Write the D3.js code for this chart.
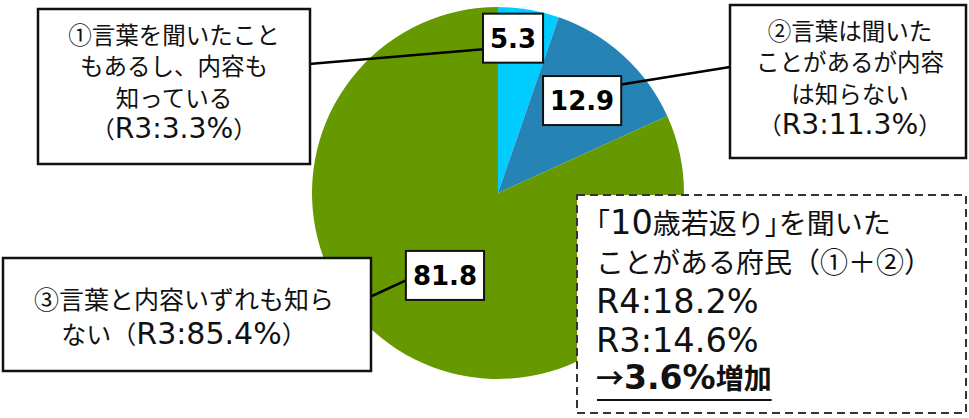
<!DOCTYPE html>
<html>
<head>
<meta charset="utf-8">
<script src="https://cdn.jsdelivr.net/npm/d3@7"></script>
<style>
  body { margin: 0; background: #fff; }
  svg { display: block; font-family: 'DejaVu Sans', 'Noto Sans CJK JP', sans-serif; }
</style>
</head>
<body>
<div id="chart"></div>
<script>
// data
const categories = ['①言葉を聞いたこともあるし、内容も知っている', '②言葉は聞いたことがあるが内容は知らない', '③言葉と内容いずれも知らない']
const values = [5.3, 12.9, 81.8]
const colors = ['#00ccff', '#2683b5', '#669900']
const calloutLines = [
  ['①言葉を聞いたこと', 'もあるし、内容も', '知っている', '（R3:3.3%）'],
  ['②言葉は聞いた', 'ことがあるが内容', 'は知らない', '（R3:11.3%）'],
  ['③言葉と内容いずれも知ら', 'ない（R3:85.4%）']
]
const summaryLines = ['「10歳若返り」を聞いた', 'ことがある府民（①＋②）', 'R4:18.2%', 'R3:14.6%']
const summaryResult = '→3.6%増加'

const width = 969, height = 418
const cx = 498, cy = 193, radius = 186

// latin runs are drawn a bit larger than the kana, like the original font
function runs(sel, str, size, latinScale) {
  str.split(/([\x20-\x7E]+)/).filter(s => s.length).forEach(function(s) {
    const latin = /^[\x20-\x7E]+$/.test(s)
    sel.append('tspan')
      .attr('font-size', latin ? size * (latinScale || 1.2) : size)
      .attr('font-family', latin ? null : "'Noto Sans CJK JP', sans-serif")
      .text(s)
  })
}

const svg = d3.select('#chart')
  .append('svg')
  .attr('width', width)
  .attr('height', height)

const pie = d3.pie().sort(null).value(d => d)
const arcs = pie(values)
const arc = d3.arc().innerRadius(0).outerRadius(radius)

const g = svg.append('g').attr('transform', 'translate(' + cx + ',' + cy + ')')

g.selectAll('path')
  .data(arcs)
  .enter()
  .append('path')
  .attr('d', arc)
  .attr('fill', (d, i) => colors[i])

// value labels, placed along each slice's mid-angle
const labelRadius = [157, 125, 98]
const labelNudge = [-11, 0, 0]
const labelData = arcs.map(function(d, i) {
  const c = d3.arc().innerRadius(labelRadius[i]).outerRadius(labelRadius[i]).centroid(d)
  return { value: d.data, x: cx + c[0] + labelNudge[i], y: cy + c[1] }
})

const leaderG = svg.append('g')

// callout boxes
const boxes = [
  { x: 38, y: 9, w: 272, h: 155, tx: 174, ty: 38, lh: 31.5, size: 23.5 },
  { x: 730, y: 5, w: 236, h: 153, tx: 850, ty: 34, lh: 31.5, size: 23.5 },
  { x: 3, y: 258, w: 368, h: 113, tx: 184, ty: 303, lh: 35, size: 25 }
]

boxes.forEach(function(b, i) {
  svg.append('rect')
    .attr('x', b.x).attr('y', b.y)
    .attr('width', b.w).attr('height', b.h)
    .attr('fill', '#fff')
    .attr('stroke', '#111')
    .attr('stroke-width', 2.5)
  calloutLines[i].forEach(function(line, j) {
    const t = svg.append('text')
      .attr('x', b.tx)
      .attr('y', b.ty + j * b.lh)
      .attr('dy', '0.36em')
      .attr('text-anchor', 'middle')
      .attr('fill', '#111')
    runs(t, line, b.size)
  })
})

const lab = svg.append('g')
  .selectAll('g')
  .data(labelData)
  .enter()
  .append('g')
  .attr('transform', d => 'translate(' + d.x + ',' + d.y + ')')

const labText = lab.append('text')
  .attr('text-anchor', 'middle')
  .attr('dy', '0.36em')
  .attr('font-size', 26)
  .attr('font-weight', 'bold')
  .attr('fill', '#000')
  .text(d => d.value.toFixed(1))

labText.each(function(d) {
  const bb = this.getBBox()
  d.w = bb.width + 14
  d.h = 49
})

lab.insert('rect', 'text')
  .attr('x', d => -d.w / 2)
  .attr('y', d => -d.h / 2)
  .attr('width', d => d.w)
  .attr('height', d => d.h)
  .attr('fill', '#fff')
  .attr('stroke', '#111')
  .attr('stroke-width', 2)

// leader lines: callout box -> value label box
const leaders = [
  { from: [309, 64], side: 'left', dy: 11 },
  { from: [730, 67], side: 'right', dy: -16 },
  { from: [372, 296], side: 'left', dy: 5 }
]

leaderG.selectAll('line')
  .data(leaders)
  .enter()
  .append('line')
  .attr('x1', d => d.from[0])
  .attr('y1', d => d.from[1])
  .attr('x2', (d, i) => labelData[i].x + (d.side === 'left' ? -labelData[i].w / 2 : labelData[i].w / 2))
  .attr('y2', (d, i) => labelData[i].y + d.dy)
  .attr('stroke', '#000')
  .attr('stroke-width', 2.5)

// summary box
const sb = { x: 577, y: 195, w: 389, h: 218 }
svg.append('rect')
  .attr('x', sb.x).attr('y', sb.y)
  .attr('width', sb.w).attr('height', sb.h)
  .attr('fill', '#fff')
  .attr('stroke', '#333')
  .attr('stroke-width', 2)
  .attr('stroke-dasharray', '8,5')

summaryLines.forEach(function(line, i) {
  const t = svg.append('text')
    .attr('x', 596)
    .attr('y', 228 + i * 39.5)
    .attr('dy', '0.36em')
    .attr('fill', '#111')
    .style('font-feature-settings', i === 0 ? "'halt'" : null)
  runs(t, line, 28)
})

const res = svg.append('text')
  .attr('x', 596)
  .attr('y', 383)
  .attr('dy', '0.36em')
  .attr('font-weight', 'bold')
  .attr('fill', '#111')
runs(res, summaryResult, 28, 1.18)

const rb = res.node().getBBox()
svg.append('line')
  .attr('x1', 597).attr('x2', rb.x + rb.width)
  .attr('y1', 400).attr('y2', 400)
  .attr('stroke', '#111')
  .attr('stroke-width', 2)
</script>
</body>
</html>
